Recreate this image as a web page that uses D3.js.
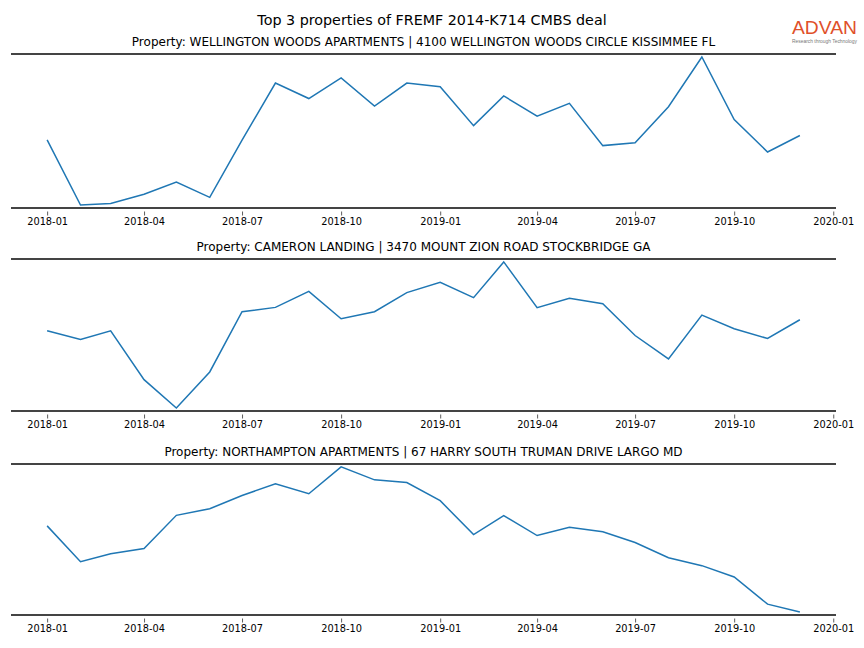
<!DOCTYPE html>
<html>
<head>
<meta charset="utf-8">
<script src="https://cdn.jsdelivr.net/npm/d3@7"></script>
<style>
  html, body { margin: 0; padding: 0; background: #fff; }
  svg { display: block; font-family: "DejaVu Sans", sans-serif; }
</style>
</head>
<body>
<svg id="chart" width="864" height="648"></svg>
<script>
// ---- Data ----
const months = ["2018-01","2018-02","2018-03","2018-04","2018-05","2018-06","2018-07","2018-08","2018-09","2018-10","2018-11","2018-12",
                "2019-01","2019-02","2019-03","2019-04","2019-05","2019-06","2019-07","2019-08","2019-09","2019-10","2019-11","2019-12"];
const tickLabels = ["2018-01","2018-04","2018-07","2018-10","2019-01","2019-04","2019-07","2019-10","2020-01"];
const chartTitle = "Top 3 properties of FREMF 2014-K714 CMBS deal";
const propertyTitles = [
  "Property: WELLINGTON WOODS APARTMENTS | 4100 WELLINGTON WOODS CIRCLE KISSIMMEE FL",
  "Property: CAMERON LANDING | 3470 MOUNT ZION ROAD STOCKBRIDGE GA",
  "Property: NORTHAMPTON APARTMENTS | 67 HARRY SOUTH TRUMAN DRIVE LARGO MD"
];
const wellingtonWoods = [680, 37, 53, 143, 263, 113, 677, 1240, 1087, 1290, 1013, 1240, 1203, 820, 1113, 913, 1040, 623, 650, 1007, 1497, 880, 560, 723];
const cameronLanding  = [797, 710, 797, 310, 27, 387, 987, 1030, 1190, 917, 987, 1177, 1280, 1127, 1483, 1027, 1120, 1067, 750, 517, 953, 817, 720, 907];
const northampton     = [887, 527, 607, 660, 993, 1060, 1193, 1310, 1210, 1480, 1350, 1323, 1140, 800, 990, 790, 873, 827, 720, 567, 487, 373, 100, 20];
const seriesList = [wellingtonWoods, cameronLanding, northampton];

// ---- Layout ----
const W = 864, H = 648;
const left = 11, right = 836;
const panels = [{top: 54, bottom: 208}, {top: 259, bottom: 411}, {top: 464, bottom: 615}];
const lineColor = "#1f77b4";
const spineColor = "#444444";

const svg = d3.select("#chart");
const parse = d3.timeParse("%Y-%m");
const dates = months.map(parse);

const t0 = dates[0], t1 = dates[dates.length - 1];
const span = t1 - t0;
const xPad = 0.048;
const x = d3.scaleTime()
  .domain([new Date(+t0 - span * xPad), new Date(+t1 + span * xPad)])
  .range([left, right]);
const tickDates = tickLabels.map(parse);

svg.append("text")
  .attr("x", W / 2).attr("y", 24.5)
  .attr("text-anchor", "middle")
  .attr("font-size", 14.3)
  .attr("fill", "#000")
  .text(chartTitle);

seriesList.forEach((vals, i) => {
  const p = panels[i];
  const g = svg.append("g");
  const mn = d3.min(vals), mx = d3.max(vals), r = mx - mn;
  const yPad = 0.02;
  const y = d3.scaleLinear().domain([mn - r * yPad, mx + r * yPad]).range([p.bottom, p.top]);

  // title
  g.append("text")
    .attr("x", (left + right) / 2).attr("y", p.top - 8.5)
    .attr("text-anchor", "middle")
    .attr("font-size", 12)
    .attr("fill", "#000")
    .text(propertyTitles[i]);

  // x axis
  const axis = d3.axisBottom(x)
    .tickValues(tickDates)
    .tickFormat(d3.timeFormat("%Y-%m"))
    .tickSizeInner(4).tickSizeOuter(0).tickPadding(3);
  const ax = g.append("g")
    .attr("transform", `translate(0,${p.bottom + 3.5})`)
    .call(axis);
  ax.select(".domain").remove();
  ax.selectAll(".tick line").attr("stroke", "#333").attr("stroke-width", 0.8);
  ax.selectAll(".tick text")
    .attr("font-family", "DejaVu Sans, sans-serif")
    .attr("font-size", 9.8)
    .attr("fill", "#000");

  // line
  const line = d3.line()
    .x((d, j) => x(dates[j]))
    .y(d => y(d));
  g.append("path")
    .datum(vals)
    .attr("d", line)
    .attr("fill", "none")
    .attr("stroke", lineColor)
    .attr("stroke-width", 1.5)
    .attr("stroke-linejoin", "miter");

  // spines (top and bottom)
  [p.top, p.bottom].forEach(yy => {
    g.append("line")
      .attr("x1", left).attr("x2", right)
      .attr("y1", yy).attr("y2", yy)
      .attr("stroke", spineColor)
      .attr("stroke-width", 2);
  });
});

// logo
const logo = svg.append("g");
logo.append("text")
  .attr("x", 792).attr("y", 34)
  .attr("font-family", "Liberation Sans, Arial, sans-serif")
  .attr("font-size", 19)
  .attr("textLength", 65)
  .attr("lengthAdjust", "spacingAndGlyphs")
  .attr("fill", "#e0502a")
  .text("ADVAN");
logo.append("text")
  .attr("x", 792).attr("y", 42.5)
  .attr("font-family", "Liberation Sans, Arial, sans-serif")
  .attr("font-size", 4.5)
  .attr("textLength", 65)
  .attr("lengthAdjust", "spacingAndGlyphs")
  .attr("fill", "#777")
  .text("Research through Technology");
</script>
</body>
</html>
